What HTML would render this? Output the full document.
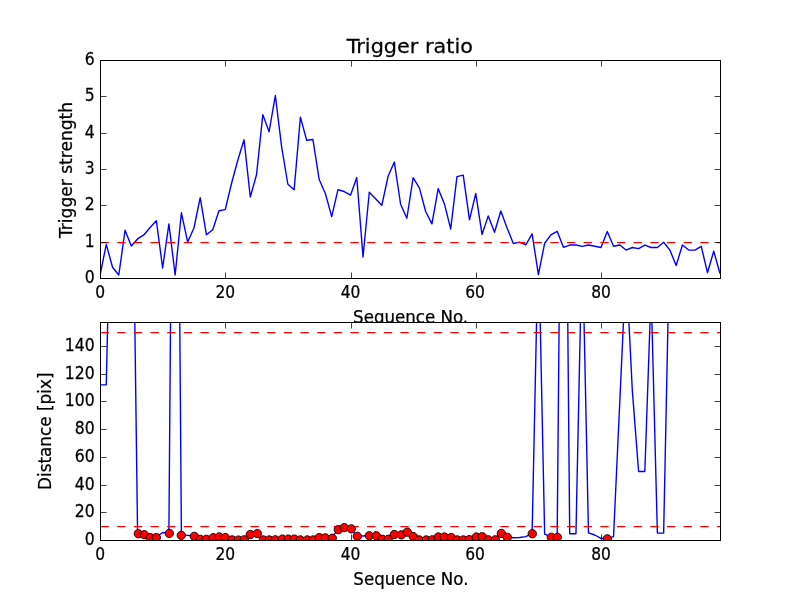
<!DOCTYPE html>
<html lang="en"><head><meta charset="utf-8"><title>Trigger ratio</title>
<style>html,body{margin:0;padding:0;background:#fff;overflow:hidden}svg{display:block}</style>
</head><body>
<svg width="800" height="600" viewBox="0 0 800 600" style="display:block">
<defs><clipPath id="cu"><rect x="100" y="60" width="621" height="219"/></clipPath><clipPath id="cl"><rect x="100" y="322" width="621" height="219"/></clipPath></defs>
<rect width="800" height="600" fill="#fff"/>
<g font-family="DejaVu Sans, Liberation Sans, sans-serif" fill="#000" stroke="#000" stroke-width="0.25">
<text transform="translate(410.6,323.0) scale(0.947,1)" font-size="17.6" text-anchor="middle">Sequence No.</text>
</g>
<g clip-path="url(#cu)">
<polyline points="100.00,275.63 106.26,244.43 112.53,267.27 118.79,275.02 125.05,230.25 131.31,246.07 137.58,238.94 143.84,234.94 150.10,227.53 156.36,220.76 162.63,268.00 168.89,223.89 175.15,275.02 181.41,212.80 187.68,242.07 193.94,228.00 200.20,197.71 206.46,234.80 212.73,229.82 218.99,210.80 225.25,209.56 231.52,183.53 237.78,160.25 244.04,139.82 250.30,196.98 256.57,174.44 262.83,114.62 269.09,131.71 275.35,95.53 281.62,146.80 287.88,184.25 294.14,189.71 300.40,117.16 306.67,140.25 312.93,139.53 319.19,179.53 325.45,193.71 331.72,216.62 337.98,189.71 344.24,191.53 350.51,195.16 356.77,177.53 363.03,256.98 369.29,192.25 375.56,198.80 381.82,205.34 388.08,176.25 394.34,162.07 400.61,204.25 406.87,218.25 413.13,177.71 419.39,187.89 425.66,211.53 431.92,223.89 438.18,188.62 444.44,203.89 450.71,228.98 456.97,176.62 463.23,175.16 469.49,219.89 475.76,193.34 482.02,234.43 488.28,215.89 494.55,232.25 500.81,210.98 507.07,227.89 513.33,243.53 519.60,242.07 525.86,244.76 532.12,233.82 538.38,274.54 544.65,243.27 550.91,234.80 557.17,231.27 563.43,247.31 569.70,245.05 575.96,245.05 582.22,246.43 588.48,245.05 594.75,246.29 601.01,247.49 607.27,231.53 613.54,246.29 619.80,245.05 626.06,250.07 632.32,247.49 638.59,248.69 644.85,245.05 651.11,247.49 657.37,247.49 663.64,242.22 669.90,250.07 676.16,265.49 682.42,245.05 688.69,250.07 694.95,250.07 701.21,246.29 707.47,272.69 713.74,251.09 720.00,273.45" fill="none" stroke="#0000ff" stroke-width="1.39" stroke-linejoin="round"/>
<line x1="100.5" x2="720.5" y1="242.5" y2="242.5" stroke="#ff0000" stroke-width="1.25" stroke-dasharray="8.33 8.33"/>
</g>
<rect x="100" y="322" width="621" height="219" fill="#fff"/>
<g clip-path="url(#cl)">
<polyline points="100.00,384.85 106.26,384.85 112.53,110.57 118.79,-14.11 125.05,-14.11 131.31,55.16 137.58,533.35 143.84,534.39 150.10,537.23 156.36,537.23 162.63,532.52 168.89,533.07 175.15,-277.31 181.41,535.01 187.68,535.43 193.94,535.98 200.20,539.03 206.46,539.03 212.73,537.37 218.99,536.54 225.25,537.23 231.52,539.58 237.78,539.72 244.04,539.45 250.30,534.18 256.57,533.21 262.83,539.58 269.09,539.58 275.35,539.45 281.62,538.75 287.88,538.75 294.14,538.75 300.40,539.58 306.67,539.58 312.93,539.58 319.19,537.23 325.45,537.51 331.72,537.92 337.98,529.33 344.24,527.26 350.51,528.50 356.77,535.98 363.03,535.98 369.29,535.43 375.56,535.43 381.82,538.89 388.08,538.89 394.34,534.18 400.61,534.46 406.87,531.83 413.13,536.26 419.39,539.58 425.66,539.58 431.92,539.45 438.18,536.68 444.44,536.68 450.71,537.23 456.97,539.58 463.23,539.58 469.49,539.31 475.76,536.68 482.02,536.40 488.28,539.45 494.55,539.45 500.81,533.07 507.07,536.95 513.33,537.78 519.60,537.51 525.86,536.68 532.12,533.35 538.38,235.24 544.65,534.18 550.91,536.95 557.17,536.95 563.43,-152.63 569.70,533.77 575.96,533.77 582.22,235.24 588.48,532.94 594.75,535.01 601.01,538.48 607.27,538.48 613.54,536.54 619.80,401.47 626.06,265.72 632.32,390.39 638.59,471.43 644.85,471.43 651.11,290.65 657.37,533.07 663.64,533.07 669.90,228.31 676.16,-14.11 682.42,-14.11 688.69,-14.11 694.95,-14.11 701.21,-14.11 707.47,-14.11 713.74,-14.11 720.00,-14.11" fill="none" stroke="#0000ff" stroke-width="1.39" stroke-linejoin="round"/>
<line x1="100.5" x2="720.5" y1="332.5" y2="332.5" stroke="#ff0000" stroke-width="1.25" stroke-dasharray="8.33 8.33"/>
<line x1="100.5" x2="720.5" y1="526.5" y2="526.5" stroke="#ff0000" stroke-width="1.25" stroke-dasharray="8.33 8.33"/>
</g>
<g stroke="#000" stroke-width="0.75">
<line x1="225.5" x2="225.5" y1="278.5" y2="272.5"/>
<line x1="225.5" x2="225.5" y1="60.5" y2="66.5"/>
<line x1="351.5" x2="351.5" y1="278.5" y2="272.5"/>
<line x1="351.5" x2="351.5" y1="60.5" y2="66.5"/>
<line x1="476.5" x2="476.5" y1="278.5" y2="272.5"/>
<line x1="476.5" x2="476.5" y1="60.5" y2="66.5"/>
<line x1="601.5" x2="601.5" y1="278.5" y2="272.5"/>
<line x1="601.5" x2="601.5" y1="60.5" y2="66.5"/>
<line x1="225.5" x2="225.5" y1="540.5" y2="534.5"/>
<line x1="225.5" x2="225.5" y1="322.5" y2="328.5"/>
<line x1="351.5" x2="351.5" y1="540.5" y2="534.5"/>
<line x1="351.5" x2="351.5" y1="322.5" y2="328.5"/>
<line x1="476.5" x2="476.5" y1="540.5" y2="534.5"/>
<line x1="476.5" x2="476.5" y1="322.5" y2="328.5"/>
<line x1="601.5" x2="601.5" y1="540.5" y2="534.5"/>
<line x1="601.5" x2="601.5" y1="322.5" y2="328.5"/>
<line x1="100.5" x2="106.5" y1="242.5" y2="242.5"/>
<line x1="720.5" x2="714.5" y1="242.5" y2="242.5"/>
<line x1="100.5" x2="106.5" y1="205.5" y2="205.5"/>
<line x1="720.5" x2="714.5" y1="205.5" y2="205.5"/>
<line x1="100.5" x2="106.5" y1="169.5" y2="169.5"/>
<line x1="720.5" x2="714.5" y1="169.5" y2="169.5"/>
<line x1="100.5" x2="106.5" y1="133.5" y2="133.5"/>
<line x1="720.5" x2="714.5" y1="133.5" y2="133.5"/>
<line x1="100.5" x2="106.5" y1="96.5" y2="96.5"/>
<line x1="720.5" x2="714.5" y1="96.5" y2="96.5"/>
<line x1="100.5" x2="106.5" y1="512.5" y2="512.5"/>
<line x1="720.5" x2="714.5" y1="512.5" y2="512.5"/>
<line x1="100.5" x2="106.5" y1="485.5" y2="485.5"/>
<line x1="720.5" x2="714.5" y1="485.5" y2="485.5"/>
<line x1="100.5" x2="106.5" y1="457.5" y2="457.5"/>
<line x1="720.5" x2="714.5" y1="457.5" y2="457.5"/>
<line x1="100.5" x2="106.5" y1="429.5" y2="429.5"/>
<line x1="720.5" x2="714.5" y1="429.5" y2="429.5"/>
<line x1="100.5" x2="106.5" y1="401.5" y2="401.5"/>
<line x1="720.5" x2="714.5" y1="401.5" y2="401.5"/>
<line x1="100.5" x2="106.5" y1="374.5" y2="374.5"/>
<line x1="720.5" x2="714.5" y1="374.5" y2="374.5"/>
<line x1="100.5" x2="106.5" y1="346.5" y2="346.5"/>
<line x1="720.5" x2="714.5" y1="346.5" y2="346.5"/>
</g>
<g fill="#ff0000" stroke="#000" stroke-width="0.9" clip-path="url(#cl)">
<circle cx="138.30" cy="533.70" r="4.17"/>
<circle cx="144.30" cy="534.74" r="4.17"/>
<circle cx="150.30" cy="537.58" r="4.17"/>
<circle cx="156.30" cy="537.58" r="4.17"/>
<circle cx="169.30" cy="533.42" r="4.17"/>
<circle cx="181.30" cy="535.36" r="4.17"/>
<circle cx="194.30" cy="536.33" r="4.17"/>
<circle cx="200.30" cy="539.38" r="4.17"/>
<circle cx="206.30" cy="539.38" r="4.17"/>
<circle cx="213.30" cy="537.72" r="4.17"/>
<circle cx="219.30" cy="536.89" r="4.17"/>
<circle cx="225.30" cy="537.58" r="4.17"/>
<circle cx="232.30" cy="539.93" r="4.17"/>
<circle cx="238.30" cy="540.07" r="4.17"/>
<circle cx="244.30" cy="539.80" r="4.17"/>
<circle cx="250.30" cy="534.53" r="4.17"/>
<circle cx="257.30" cy="533.56" r="4.17"/>
<circle cx="263.30" cy="539.93" r="4.17"/>
<circle cx="269.30" cy="539.93" r="4.17"/>
<circle cx="275.30" cy="539.80" r="4.17"/>
<circle cx="282.30" cy="539.10" r="4.17"/>
<circle cx="288.30" cy="539.10" r="4.17"/>
<circle cx="294.30" cy="539.10" r="4.17"/>
<circle cx="300.30" cy="539.93" r="4.17"/>
<circle cx="307.30" cy="539.93" r="4.17"/>
<circle cx="313.30" cy="539.93" r="4.17"/>
<circle cx="319.30" cy="537.58" r="4.17"/>
<circle cx="325.30" cy="537.86" r="4.17"/>
<circle cx="332.30" cy="538.27" r="4.17"/>
<circle cx="338.30" cy="529.68" r="4.17"/>
<circle cx="344.30" cy="527.61" r="4.17"/>
<circle cx="351.30" cy="528.85" r="4.17"/>
<circle cx="357.30" cy="536.33" r="4.17"/>
<circle cx="369.30" cy="535.78" r="4.17"/>
<circle cx="376.30" cy="535.78" r="4.17"/>
<circle cx="382.30" cy="539.24" r="4.17"/>
<circle cx="388.30" cy="539.24" r="4.17"/>
<circle cx="394.30" cy="534.53" r="4.17"/>
<circle cx="401.30" cy="534.81" r="4.17"/>
<circle cx="407.30" cy="532.18" r="4.17"/>
<circle cx="413.30" cy="536.61" r="4.17"/>
<circle cx="419.30" cy="539.93" r="4.17"/>
<circle cx="426.30" cy="539.93" r="4.17"/>
<circle cx="432.30" cy="539.80" r="4.17"/>
<circle cx="438.30" cy="537.03" r="4.17"/>
<circle cx="444.30" cy="537.03" r="4.17"/>
<circle cx="451.30" cy="537.58" r="4.17"/>
<circle cx="457.30" cy="539.93" r="4.17"/>
<circle cx="463.30" cy="539.93" r="4.17"/>
<circle cx="469.30" cy="539.66" r="4.17"/>
<circle cx="476.30" cy="537.03" r="4.17"/>
<circle cx="482.30" cy="536.75" r="4.17"/>
<circle cx="488.30" cy="539.80" r="4.17"/>
<circle cx="495.30" cy="539.80" r="4.17"/>
<circle cx="501.30" cy="533.42" r="4.17"/>
<circle cx="507.30" cy="537.30" r="4.17"/>
<circle cx="532.30" cy="533.70" r="4.17"/>
<circle cx="551.30" cy="537.30" r="4.17"/>
<circle cx="557.30" cy="537.30" r="4.17"/>
<circle cx="607.30" cy="538.83" r="4.17"/>
</g>
<rect x="100.5" y="60.5" width="620" height="218" fill="none" stroke="#000" stroke-width="1" shape-rendering="crispEdges"/>
<rect x="100.5" y="322.5" width="620" height="218" fill="none" stroke="#000" stroke-width="1" shape-rendering="crispEdges"/>
<g font-family="DejaVu Sans, Liberation Sans, sans-serif" fill="#000" stroke="#000" stroke-width="0.25">
<text transform="translate(409.8,52.8) scale(1.072,1)" font-size="19.4" text-anchor="middle">Trigger ratio</text>
<text transform="translate(100.05,297.9) scale(0.88,1)" font-size="17.6" text-anchor="middle">0</text>
<text transform="translate(225.3,297.9) scale(0.88,1)" font-size="17.6" text-anchor="middle">20</text>
<text transform="translate(350.56,297.9) scale(0.88,1)" font-size="17.6" text-anchor="middle">40</text>
<text transform="translate(475.01,297.9) scale(0.88,1)" font-size="17.6" text-anchor="middle">60</text>
<text transform="translate(601.06,297.9) scale(0.88,1)" font-size="17.6" text-anchor="middle">80</text>
<text transform="translate(100.05,559.7) scale(0.88,1)" font-size="17.6" text-anchor="middle">0</text>
<text transform="translate(225.3,559.7) scale(0.88,1)" font-size="17.6" text-anchor="middle">20</text>
<text transform="translate(350.56,559.7) scale(0.88,1)" font-size="17.6" text-anchor="middle">40</text>
<text transform="translate(475.01,559.7) scale(0.88,1)" font-size="17.6" text-anchor="middle">60</text>
<text transform="translate(601.06,559.7) scale(0.88,1)" font-size="17.6" text-anchor="middle">80</text>
<text transform="translate(94.7,282.7) scale(0.89,1)" font-size="17.6" text-anchor="end">0</text>
<text transform="translate(94.7,246.7) scale(0.89,1)" font-size="17.6" text-anchor="end">1</text>
<text transform="translate(94.7,209.7) scale(0.89,1)" font-size="17.6" text-anchor="end">2</text>
<text transform="translate(94.7,173.7) scale(0.89,1)" font-size="17.6" text-anchor="end">3</text>
<text transform="translate(94.7,137.7) scale(0.89,1)" font-size="17.6" text-anchor="end">4</text>
<text transform="translate(94.7,100.7) scale(0.89,1)" font-size="17.6" text-anchor="end">5</text>
<text transform="translate(94.7,64.7) scale(0.89,1)" font-size="17.6" text-anchor="end">6</text>
<text transform="translate(94.7,544.7) scale(0.89,1)" font-size="17.6" text-anchor="end">0</text>
<text transform="translate(94.7,516.7) scale(0.89,1)" font-size="17.6" text-anchor="end">20</text>
<text transform="translate(94.7,489.7) scale(0.89,1)" font-size="17.6" text-anchor="end">40</text>
<text transform="translate(94.7,461.7) scale(0.89,1)" font-size="17.6" text-anchor="end">60</text>
<text transform="translate(94.7,433.7) scale(0.89,1)" font-size="17.6" text-anchor="end">80</text>
<text transform="translate(94.7,405.7) scale(0.89,1)" font-size="17.6" text-anchor="end">100</text>
<text transform="translate(94.7,378.7) scale(0.89,1)" font-size="17.6" text-anchor="end">120</text>
<text transform="translate(94.7,350.7) scale(0.89,1)" font-size="17.6" text-anchor="end">140</text>
<text transform="translate(410.9,584.6) scale(0.947,1)" font-size="17.6" text-anchor="middle">Sequence No.</text>
<text transform="translate(72.3,170) rotate(-90) scale(0.971,1)" font-size="17.6" text-anchor="middle">Trigger strength</text>
<text transform="translate(50.8,431.25) rotate(-90) scale(0.957,1)" font-size="17.6" text-anchor="middle">Distance [pix]</text>
</g>
</svg>
</body></html>
